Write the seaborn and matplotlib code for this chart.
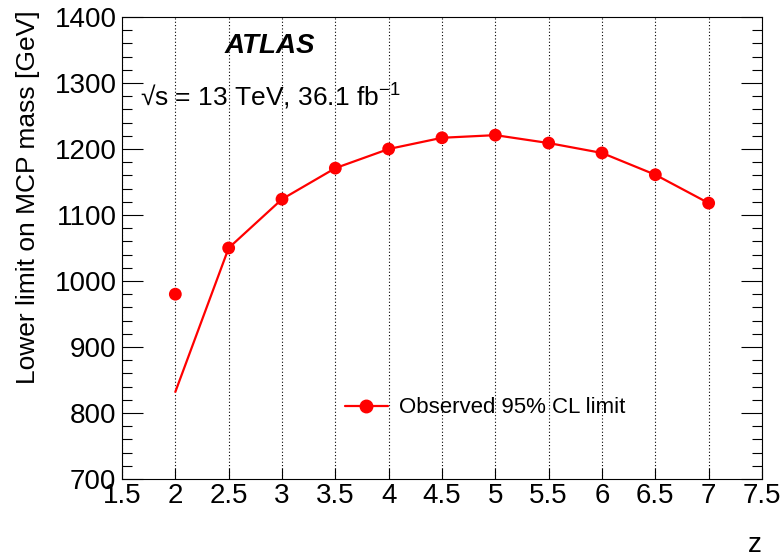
import seaborn as sns
import matplotlib.pyplot as plt
import matplotlib.ticker as mticker
from matplotlib.lines import Line2D
import pandas as pd

# observed limit points and the line drawn through them (line starts lower at z=2)
z = [2, 2.5, 3, 3.5, 4, 4.5, 5, 5.5, 6, 6.5, 7]
mass_points = [980, 1050, 1124, 1171, 1200, 1217, 1221, 1209, 1194, 1161, 1118]
mass_line = [832, 1050, 1124, 1171, 1200, 1217, 1221, 1209, 1194, 1161, 1118]

df = pd.DataFrame({'z': z, 'points': mass_points, 'line': mass_line})

sns.set_style('ticks')
plt.rcParams['font.family'] = ['Liberation Sans', 'DejaVu Sans']
plt.rcParams['mathtext.fontset'] = 'custom'
plt.rcParams['mathtext.rm'] = 'Liberation Sans'
plt.rcParams['text.color'] = 'black'
plt.rcParams['axes.labelcolor'] = 'black'

fig = plt.figure(figsize=(7.83, 5.57), dpi=100)
ax = fig.add_axes([122/783, 1 - 479/557, 640/783, 462/557])

sns.lineplot(data=df, x='z', y='line', color='red', linewidth=1.6, ax=ax)
sns.scatterplot(data=df, x='z', y='points', color='red', s=85, edgecolor='none', ax=ax, zorder=5)

ax.set_xlim(1.5, 7.5)
ax.set_ylim(700, 1400)
ax.xaxis.set_major_locator(mticker.MultipleLocator(0.5))
ax.yaxis.set_major_locator(mticker.MultipleLocator(100))
ax.yaxis.set_minor_locator(mticker.MultipleLocator(20))
ax.xaxis.set_major_formatter(mticker.FormatStrFormatter('%g'))
ax.grid(axis='x', linestyle=(0, (1, 2)), color='black', linewidth=0.8)
ax.set_axisbelow(True)

for s in ax.spines.values():
    s.set_linewidth(0.8)
    s.set_color('black')
ax.tick_params(axis='both', which='both', direction='in', right=True, top=False,
               labelsize=20, colors='black', width=0.8)
ax.tick_params(axis='y', which='major', length=15, pad=4)
ax.tick_params(axis='y', which='minor', length=7)
ax.tick_params(axis='x', which='major', length=8, pad=3)

ax.set_xlabel('z', fontsize=20, loc='right')
ax.xaxis.set_label_coords(1.0, -0.115)
ax.set_ylabel('Lower limit on MCP mass [GeV]', fontsize=19, loc='top')
ax.yaxis.set_label_coords(-0.128, 1.015)

ax.text(0.161, 0.937, 'ATLAS', transform=ax.transAxes, fontsize=20,
        fontweight='bold', fontstyle='italic', va='center', ha='left')
ax.text(0.028, 0.829, '√s = 13 TeV, 36.1 fb$^{-1}$', transform=ax.transAxes,
        fontsize=19, va='center', ha='left')

handle = Line2D([], [], color='red', linewidth=1.6, marker='o', markersize=9)
ax.legend([handle], ['Observed 95% CL limit'], loc='center left',
          bbox_to_anchor=(0.348, 0.154), frameon=False, fontsize=16,
          handlelength=1.95, handletextpad=0.5, borderpad=0, borderaxespad=0)

fig.savefig('out.png', dpi=100)
